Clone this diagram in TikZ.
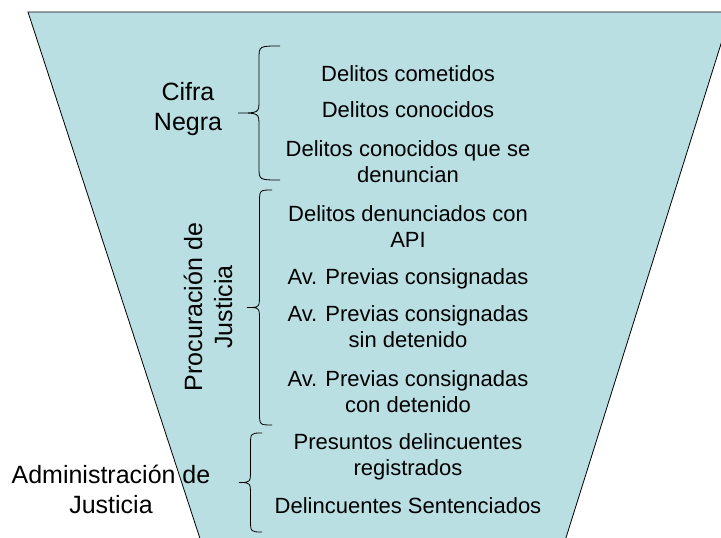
\documentclass[tikz,border=0pt]{standalone}
\usepackage{fontspec}
\setmainfont{Liberation Sans}
\definecolor{funnelfill}{RGB}{185,223,227}
\tikzset{
  itemtext/.style={font=\fontsize{22}{26}\selectfont, align=center, inner sep=0pt, anchor=base},
  grouplabel/.style={font=\fontsize{25}{30}\selectfont, align=center, inner sep=0pt, anchor=base},
  bracestyle/.style={draw=black, line width=0.8pt},
  funnelstyle/.style={fill=funnelfill, draw=black, line width=0.8pt, line join=miter}
}
% #1 x of the open ends, #2 y top, #3 y bottom, #4 x of the tip
\newcommand{\groupbrace}[4]{%
  \pgfmathsetmacro\bxm{(#1+#4)/2}%
  \pgfmathsetmacro\bym{(#2+#3)/2}%
  \draw[bracestyle] (#1,#2) .. controls (\bxm,#2) .. (\bxm,#2+13)
    -- (\bxm,\bym-13) .. controls (\bxm,\bym) .. (#4,\bym)
    .. controls (\bxm,\bym) .. (\bxm,\bym+13)
    -- (\bxm,#3-13) .. controls (\bxm,#3) .. (#1,#3);
}
\begin{document}
\begin{tikzpicture}[x=1pt,y=-1pt]
  \useasboundingbox (0,0) rectangle (721,538);
  \clip (0,0) rectangle (721,538);
  \fill[white] (0,0) rectangle (721,538);
  % funnel
  \draw[funnelstyle] (28,12) -- (731,12) -- (559,560) -- (207,560) -- cycle;
  % braces
  \groupbrace{280}{46}{180}{238}
  \groupbrace{272}{190}{425}{247}
  \groupbrace{262}{433}{532}{239}
  % group labels (base anchor = baseline of the last line)
  \node[grouplabel] (cifra) at (188,130) {Cifra\\Negra};
  \node[grouplabel, rotate=90] (procu) at (232,307) {Procuración de\\Justicia};
  \node[grouplabel] (admin) at (111,513) {Administración de\\Justicia};
  % items
  \node[itemtext] (i1) at (408,81) {Delitos cometidos};
  \node[itemtext] (i2) at (408,117) {Delitos conocidos};
  \node[itemtext] (i3) at (408,182) {Delitos conocidos que se\\denuncian};
  \node[itemtext] (i4) at (408,247) {Delitos denunciados con\\API};
  \node[itemtext] (i5) at (408,284) {Av. Previas consignadas};
  \node[itemtext] (i6) at (408,347) {Av. Previas consignadas\\sin detenido};
  \node[itemtext] (i7) at (408,412) {Av. Previas consignadas\\con detenido};
  \node[itemtext] (i8) at (408,475) {Presuntos delincuentes\\registrados};
  \node[itemtext] (i9) at (408,513) {Delincuentes Sentenciados};
\end{tikzpicture}
\end{document}
